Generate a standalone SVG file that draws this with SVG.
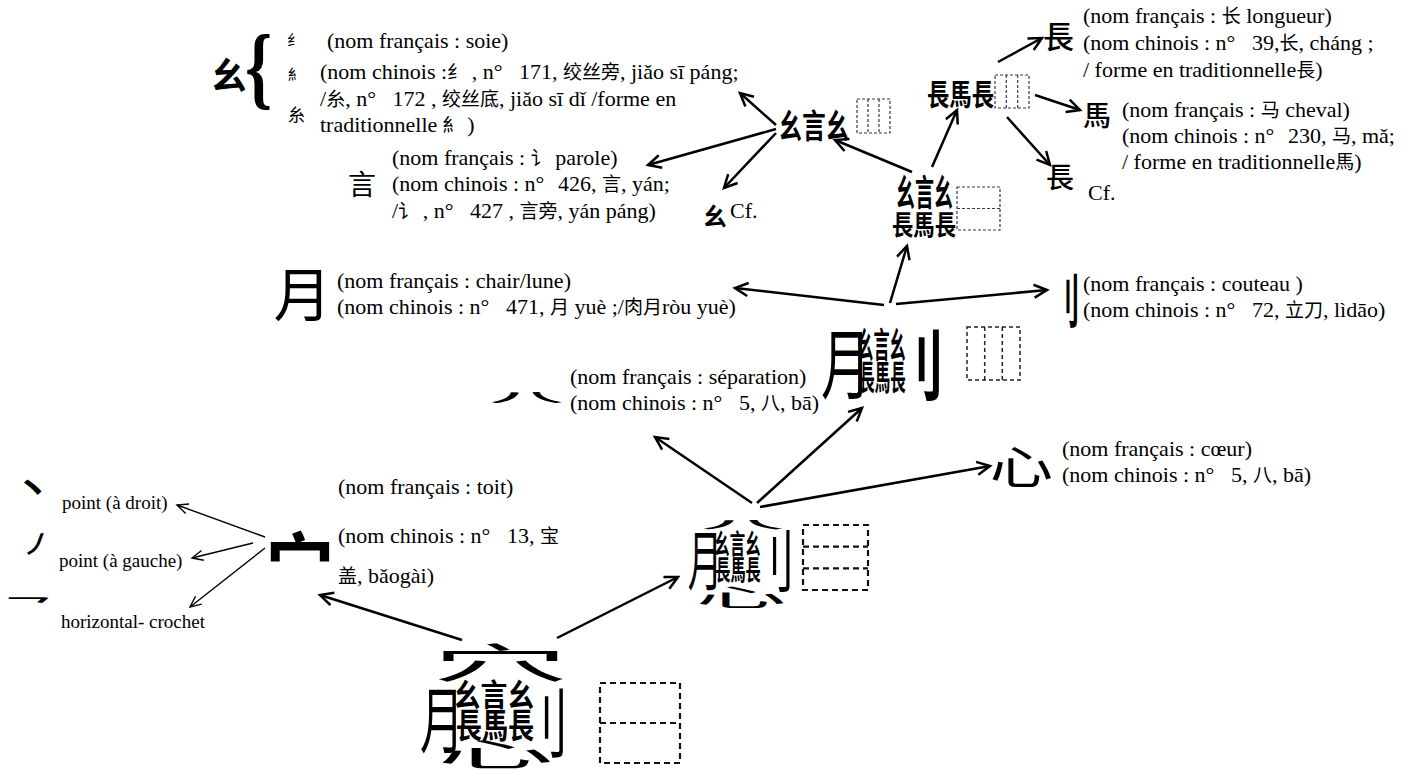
<svg xmlns="http://www.w3.org/2000/svg" width="1416" height="775" viewBox="0 0 1416 775">
<defs>
<style>
.t{font-family:"Liberation Serif","Times New Roman","DejaVu Serif","Noto Sans CJK SC",serif;font-size:22px;fill:#000}
.s{font-size:19px}
.cj{font-family:"Noto Sans CJK SC",sans-serif;font-size:19px}
.g{font-family:"Noto Sans CJK SC",sans-serif;fill:#000;font-size:100px}
.gb{font-weight:700}
.a{stroke:#000;stroke-width:2.5;fill:none;marker-end:url(#ah)}
.a2{stroke:#000;stroke-width:1.4;fill:none;marker-end:url(#ah2)}
.bx{fill:none;stroke:#3a3450;stroke-width:1.2;stroke-dasharray:3 2}
.bxm{fill:none;stroke:#222;stroke-width:1.5;stroke-dasharray:4 3}
.bxl{fill:none;stroke:#111;stroke-width:2.2;stroke-dasharray:6 4}
</style>
<marker id="ah" markerUnits="userSpaceOnUse" markerWidth="18" markerHeight="16" refX="15" refY="8" orient="auto">
<path d="M2,1.5 L15,8 L2,14.5" fill="none" stroke="#000" stroke-width="2.5"/>
</marker>
<marker id="ah2" markerUnits="userSpaceOnUse" markerWidth="14" markerHeight="12" refX="12" refY="6" orient="auto">
<path d="M1,1 L12,6 L1,11" fill="none" stroke="#000" stroke-width="1.4"/>
</marker>
</defs>
<rect width="1416" height="775" fill="#fff"/>

<g id="connectors">
<line class="a" x1="776" y1="125" x2="740" y2="93"/>
<line class="a" x1="776" y1="129" x2="648" y2="165"/>
<line class="a" x1="776" y1="133" x2="724" y2="188"/>
<line class="a" x1="998" y1="62" x2="1042" y2="38"/>
<line class="a" x1="1035" y1="95" x2="1080" y2="110"/>
<line class="a" x1="1007" y1="117" x2="1050" y2="165"/>
<line class="a" x1="912" y1="172" x2="835" y2="140"/>
<line class="a" x1="932" y1="167" x2="957" y2="110"/>
<line class="a" x1="884" y1="305" x2="735" y2="288"/>
<line class="a" x1="890" y1="303" x2="907" y2="246"/>
<line class="a" x1="896" y1="304" x2="1047" y2="290"/>
<line class="a" x1="752" y1="503" x2="655" y2="437"/>
<line class="a" x1="757" y1="503" x2="862" y2="408"/>
<line class="a" x1="760" y1="507" x2="990" y2="466"/>
<line class="a" x1="557" y1="638" x2="678" y2="577"/>
<line class="a" x1="462" y1="640" x2="320" y2="595"/>
<line class="a2" x1="265" y1="537" x2="177" y2="505"/>
<line class="a2" x1="253" y1="543" x2="192" y2="558"/>
<line class="a2" x1="265" y1="548" x2="190" y2="607"/>
</g>

<g id="node-mi-soie">
<text class="g gb" x="211" y="89" style="font-size:36px">幺</text>
<text x="0" y="0" transform="translate(245,97) scale(0.75,1)" style="font-family:'Liberation Serif','Times New Roman','DejaVu Serif',serif;font-size:92px;font-weight:bold">{</text>
<text class="g" x="287" y="45" style="font-size:15px">纟</text>
<text class="g" x="288" y="80" style="font-size:15px">糹</text>
<text class="g" x="288" y="121" style="font-size:17px">糸</text>
<text class="t" x="327" y="48">(nom français : soie)</text>
<text class="t" x="320" y="79">(nom chinois :<tspan class="cj">纟</tspan> , n°<tspan dx="11"> 171</tspan>, <tspan class="cj">绞丝旁</tspan>, jiǎo sī páng;</text>
<text class="t" x="320" y="106">/<tspan class="cj">糸</tspan>, n°<tspan dx="11"> 172</tspan> , <tspan class="cj">绞丝底</tspan>, jiǎo sī dǐ /forme en</text>
<text class="t" x="320" y="132">traditionnelle <tspan class="cj">糹</tspan> )</text>
</g>

<g id="node-yan">
<text class="g" x="348" y="195" style="font-size:28px">言</text>
<text class="t" x="392" y="165">(nom français : <tspan class="cj">讠</tspan> parole)</text>
<text class="t" x="392" y="191">(nom chinois : n°<tspan dx="8"> 426</tspan>, <tspan class="cj">言</tspan>, yán;</text>
<text class="t" x="392" y="218">/<tspan class="cj">讠</tspan> , n°<tspan dx="11"> 427</tspan> , <tspan class="cj">言旁</tspan>, yán páng)</text>
</g>

<g id="node-mi-cf">
<text class="g gb" x="703" y="225" style="font-size:24px">幺</text>
<text class="t" x="730" y="218">Cf.</text>
</g>

<g id="node-miyanmi">
<text class="g gb" transform="translate(778.8,137.7) scale(0.2345,0.333)">幺言幺</text>
<rect class="bx" x="857" y="99" width="33" height="34"/>
<line class="bx" x1="868" y1="99" x2="868" y2="133"/>
<line class="bx" x1="879" y1="99" x2="879" y2="133"/>
</g>

<g id="node-changmachang">
<text class="g gb" transform="translate(926.9,104.9) scale(0.224,0.3)">長馬長</text>
<rect class="bx" x="995" y="75" width="34" height="33"/>
<line class="bx" x1="1006.3" y1="75" x2="1006.3" y2="108"/>
<line class="bx" x1="1017.7" y1="75" x2="1017.7" y2="108"/>
</g>

<g id="node-chang">
<text class="g" x="1043" y="48" style="font-size:31px;font-weight:500">長</text>
<text class="t" x="1083" y="23">(nom français : <tspan class="cj">长</tspan> longueur)</text>
<text class="t" x="1083" y="50">(nom chinois : n°<tspan dx="11"> 39,</tspan><tspan class="cj">长</tspan>, cháng ;</text>
<text class="t" x="1083" y="77">/ forme en traditionnelle<tspan class="cj">長</tspan>)</text>
</g>

<g id="node-ma">
<text class="g" x="1083" y="126" style="font-size:28px;font-weight:500">馬</text>
<text class="t" x="1122" y="117">(nom français : <tspan class="cj">马</tspan> cheval)</text>
<text class="t" x="1122" y="143">(nom chinois : n°<tspan dx="8"> 230</tspan>, <tspan class="cj">马</tspan>, mǎ;</text>
<text class="t" x="1122" y="169">/ forme en traditionnelle<tspan class="cj">馬</tspan>)</text>
</g>

<g id="node-chang-cf">
<text class="g" x="1046" y="188" style="font-size:28px;font-weight:500">長</text>
<text class="t" x="1088" y="200">Cf.</text>
</g>

<g id="node-stack">
<text class="g gb" transform="translate(896,206.4) scale(0.19,0.367)">幺言幺</text>
<text class="g gb" transform="translate(891.9,235.1) scale(0.214,0.278)">長馬長</text>
<rect class="bx" x="957" y="187" width="43" height="43"/>
<line class="bx" x1="957" y1="208.5" x2="1000" y2="208.5"/>
</g>

<g id="node-yue">
<text class="g" x="273.6" y="316" style="font-size:58px">月</text>
<text class="t" x="337" y="288">(nom français : chair/lune)</text>
<text class="t" x="337" y="314">(nom chinois : n°<tspan dx="11"> 471</tspan>, <tspan class="cj">月</tspan> yuè ;/<tspan class="cj">肉月</tspan>ròu yuè)</text>
</g>

<g id="node-dao">
<text class="g gb" transform="translate(1053.5,323) scale(0.45,1)" style="font-size:58px">刂</text>
<text class="t" x="1083" y="291">(nom français : couteau )</text>
<text class="t" x="1083" y="317">(nom chinois : n°<tspan dx="11"> 72</tspan>, <tspan class="cj">立刀</tspan>, lìdāo)</text>
</g>

<g id="node-big">
<text class="g" transform="translate(821,392.6) scale(0.5,0.778)">月</text>
<text class="g gb" transform="translate(857.2,357.5) scale(0.162,0.356)">幺言幺</text>
<text class="g gb" transform="translate(859.2,389.6) scale(0.155,0.344)">長馬長</text>
<text class="g gb" transform="translate(894,394.6) scale(0.5,0.778)">刂</text>
<rect class="bxm" x="967" y="327" width="53" height="53"/>
<line class="bxm" x1="984.7" y1="327" x2="984.7" y2="380"/>
<line class="bxm" x1="1002.3" y1="327" x2="1002.3" y2="380"/>
</g>

<g id="node-ba">
<text class="g" transform="translate(489,402) scale(0.75,0.13)" style="font-weight:500">八</text>
<text class="t" x="570" y="384">(nom français : séparation)</text>
<text class="t" x="570" y="410">(nom chinois : n°<tspan dx="11"> 5</tspan>, <tspan class="cj">八</tspan>, bā)</text>
</g>

<g id="node-xin">
<text class="g" transform="translate(989.8,483.8) scale(0.633,0.45)">心</text>
<text class="t" x="1062" y="456">(nom français : cœur)</text>
<text class="t" x="1062" y="482">(nom chinois : n°<tspan dx="11"> 5</tspan>, <tspan class="cj">八</tspan>, bā)</text>
</g>

<g id="node-mid">
<text class="g" transform="translate(700.2,529.4) scale(0.845,0.11)" style="font-weight:500">八</text>
<text class="g" transform="translate(687.8,585.4) scale(0.344,0.656)">月</text>
<text class="g gb" transform="translate(714.2,554.1) scale(0.155,0.278)">幺言幺</text>
<text class="g gb" transform="translate(715.2,580.1) scale(0.152,0.278)">長馬長</text>
<text class="g" transform="translate(751.2,587.3) scale(0.434,0.678)">刂</text>
<text class="g" transform="translate(695.4,605.8) scale(0.911,0.2375)">心</text>
<rect class="bxl" x="803" y="525" width="65" height="65"/>
<line class="bxl" x1="803" y1="546.7" x2="868" y2="546.7"/>
<line class="bxl" x1="803" y1="568.3" x2="868" y2="568.3"/>
</g>

<g id="node-full">
<text class="g" transform="translate(431.8,677.5) scale(1.364,0.411)">穴</text>
<text class="g" transform="translate(420.1,746.9) scale(0.4375,0.722)">月</text>
<text class="g gb" transform="translate(453.7,705.8) scale(0.269,0.311)">幺言幺</text>
<text class="g gb" transform="translate(455.7,737.6) scale(0.262,0.344)">長馬長</text>
<text class="g" transform="translate(521.2,751.6) scale(0.472,0.767)">刂</text>
<text class="g" transform="translate(437.2,765.5) scale(1.167,0.32)">心</text>
<rect class="bxl" x="600" y="683" width="80" height="80"/>
<line class="bxl" x1="600" y1="723" x2="680" y2="723"/>
</g>

<g id="node-mian">
<text class="g gb" transform="translate(266,596) scale(0.68,0.766)">宀</text>
<text class="t" x="338" y="494">(nom français : toit)</text>
<text class="t" x="338" y="543">(nom chinois : n°<tspan dx="11"> 13</tspan>, <tspan class="cj">宝</tspan></text>
<text class="t" x="338" y="583"><tspan class="cj">盖</tspan>, bǎogài)</text>
</g>

<g id="node-strokes">
<text class="g gb" x="15" y="502" style="font-size:36px">丶</text>
<text class="g gb" transform="translate(22,553) skewX(-20)" style="font-size:24px">丿</text>
<text class="g gb" transform="translate(5.5,608.5) scale(0.45,0.15)">乛</text>
<text class="t s" x="62" y="509">point (à droit)</text>
<text class="t s" x="59" y="567">point (à gauche)</text>
<text class="t s" x="61" y="628">horizontal- crochet</text>
</g>
</svg>
